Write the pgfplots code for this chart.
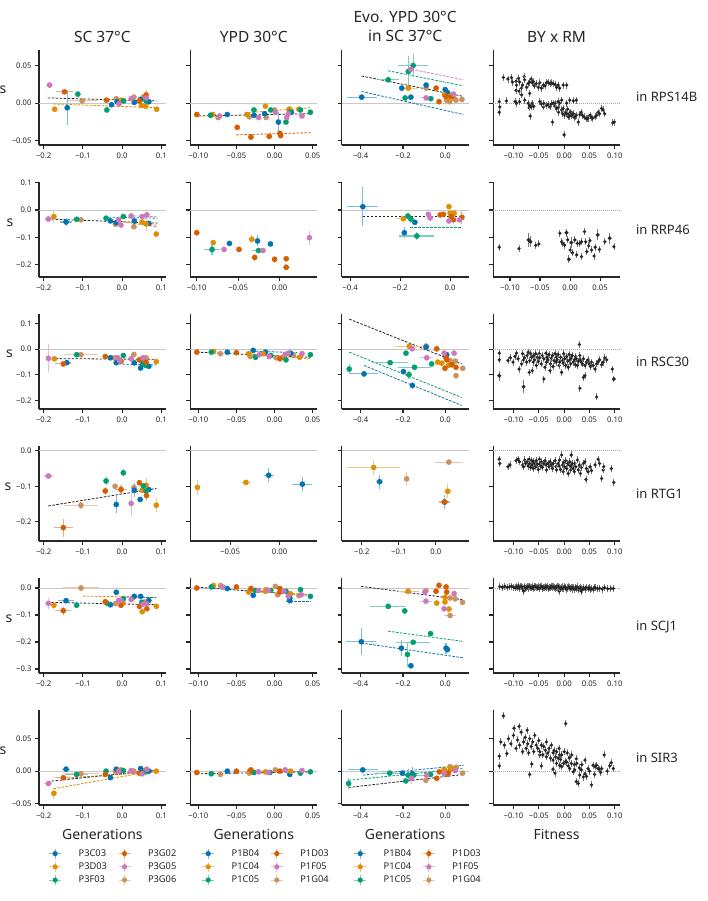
\documentclass[border=0pt]{standalone}
\usepackage{pgfplots}
\pgfplotsset{compat=1.18}
\usepackage{fontspec}
\setmainfont{Noto Sans}
\definecolor{c1}{HTML}{0173B2}
\definecolor{c2}{HTML}{DE8F05}
\definecolor{c3}{HTML}{029E73}
\definecolor{c4}{HTML}{D55E00}
\definecolor{c5}{HTML}{CC78BC}
\definecolor{c6}{HTML}{CA9161}
\definecolor{ax}{HTML}{262626}
\definecolor{bkbarc}{HTML}{7A7A7A}
\pgfdeclareplotmark{bkbar}{%
  \pgfsetlinewidth{0.8pt}%
  \pgfsetstrokecolor{bkbarc}%
  \pgfpathmoveto{\pgfqpoint{0pt}{-3.5pt}}\pgfpathlineto{\pgfqpoint{0pt}{3.5pt}}\pgfusepathqstroke
  \pgfsetfillcolor{ax}%
  \pgfpathcircle{\pgfpointorigin}{1.8pt}\pgfusepathqfill
}
\pgfplotsset{
  pan/.style={scale only axis, width=126.7pt, height=95pt, anchor=north west,
    axis x line*=bottom, axis y line*=left,
    axis line style={-, line width=1.1pt, color=ax},
    tick align=outside, major tick length=4pt,
    every tick/.style={line width=1.1pt, color=ax},
    tick label style={font=\fontsize{7.7}{9}\selectfont, color=ax},
    minor tick num=0, scaled ticks=false,
    extra y ticks={0}, extra y tick labels={},
    extra y tick style={grid=major, major tick length=0pt, major grid style={color=black!22, line width=0.9pt}},
    yticklabels={},
  },
  bypan/.style={pan, extra y tick style={grid=major, major tick length=0pt, major grid style={color=black!35, line width=0.6pt, dash pattern=on 1pt off 1pt}}},
  pt/.style={only marks, forget plot, mark=*, mark size=2.6pt, color=#1,
    mark options={draw=none, fill=#1},
    error bars/x dir=both, error bars/x explicit, error bars/y dir=both, error bars/y explicit,
    error bars/error mark=none,
    error bars/error bar style={line width=1.1pt, color=#1!50!white}},
  pf/.style n args={3}{pt=#1, error bars/x fixed=#2, error bars/y fixed=#3},
  bk/.style={only marks, forget plot, mark=bkbar},
  bke/.style={only marks, forget plot, mark=*, mark size=1.8pt, color=ax,
    mark options={draw=none, fill=ax},
    error bars/y dir=both, error bars/y explicit, error bars/error mark=none,
    error bars/error bar style={line width=0.8pt, color=bkbarc}},
  reg/.style={forget plot, no marks, line width=0.8pt, color=#1, dash pattern=on 2.6pt off 1.4pt},
  leg/.style={legend image code/.code={
      \path[draw=none, fill=none] (0pt,-5pt) rectangle (27pt,5pt);
      \draw[color=#1!50!white, line width=1.1pt] (4pt,0pt) -- (16pt,0pt) (10pt,-5pt) -- (10pt,5pt);
      \fill[color=#1, draw=none] (10pt,0pt) circle (2.6pt);}},
  lg/.style={legend style={at={(#1,-0.45)}, anchor=north west, draw=none, fill=none,
      inner sep=0pt, font=\fontsize{9.3}{10}\selectfont, text=ax, row sep=2pt,
      nodes={inner sep=1.5pt, draw=none},
      /tikz/every odd column/.append style={column sep=5pt},
      /tikz/every even column/.append style={column sep=6pt}},
    legend columns=2, legend cell align=left},
  c1x/.style={xmin=-0.212, xmax=0.111, xtick={-0.2,-0.1,0,0.1}, xticklabels={−0.2,−0.1,0.0,0.1}},
  c2x/.style={xmin=-0.1104, xmax=0.0558, xtick={-0.1,-0.05,0,0.05}, xticklabels={−0.10,−0.05,0.00,0.05}},
  c3x/.style={xmin=-0.489, xmax=0.109, xtick={-0.4,-0.2,0}, xticklabels={−0.4,−0.2,0.0}},
  c4x/.style={xmin=-0.140, xmax=0.110, xtick={-0.1,-0.05,0,0.05,0.1}, xticklabels={−0.10,−0.05,0.00,0.05,0.10}},
  r1/.style={ymin=-0.0554, ymax=0.0705, ytick={-0.05,0,0.05}},
  r2/.style={ymin=-0.2445, ymax=0.102, ytick={-0.2,-0.1,0,0.1}},
  r3/.style={ymin=-0.234, ymax=0.137, ytick={-0.2,-0.1,0,0.1}},
  r4/.style={ymin=-0.2535, ymax=0.0132, ytick={-0.2,-0.1,0}},
  r5/.style={ymin=-0.315, ymax=0.037, ytick={-0.3,-0.2,-0.1,0}},
  r6/.style={ymin=-0.052, ymax=0.094, ytick={-0.05,0,0.05}},
}
\begin{document}
\begin{tikzpicture}
\useasboundingbox (0,0) rectangle (707pt,-901pt);

%================ ROW 1 : RPS14B ================
\begin{axis}[pan, at={(39pt,-50pt)}, c1x, r1, yticklabels={−0.05,0.00,0.05}]
\addplot[reg=ax] coordinates {(-0.19,0.007) (0.088,0.003)};
\addplot[reg=c2] coordinates {(-0.175,-0.001) (0.088,-0.006)};
\addplot[pt=c6] coordinates {(-0.102,0.003) +- (0.04,0.002) (-0.015,0.006) +- (0.004,0.002) (0.030,0.008) +- (0.004,0.002) (0.054,0.008) +- (0.004,0.002)};
\addplot[pt=c1] coordinates {(-0.14,-0.006) +- (0.006,0.023) (-0.027,-0.002) +- (0.004,0.002) (-0.013,0.002) +- (0.004,0.002) (0.031,0.001) +- (0.004,0.002) (0.047,0.005) +- (0.004,0.002) (0.068,0.002) +- (0.004,0.002)};
\addplot[pt=c2] coordinates {(-0.172,-0.008) +- (0.003,0.004) (-0.002,0.004) +- (0.004,0.002) (0.049,-0.003) +- (0.004,0.002) (0.060,-0.004) +- (0.004,0.002) (0.088,-0.008) +- (0.004,0.002)};
\addplot[pt=c3] coordinates {(-0.113,0.012) +- (0.004,0.003) (-0.039,-0.009) +- (0.003,0.002) (0.004,0.003) +- (0.004,0.002) (0.061,0.003) +- (0.004,0.002)};
\addplot[pt=c4] coordinates {(-0.147,0.015) +- (0.021,0.002) (-0.040,0.004) +- (0.006,0.002) (0.044,0.003) +- (0.004,0.002) (0.061,0.011) +- (0.004,0.006)};
\addplot[pt=c5] coordinates {(-0.185,0.024) +- (0.008,0.004) (-0.008,-0.001) +- (0.006,0.002) (0.023,0.006) +- (0.006,0.003) (0.062,0.007) +- (0.006,0.004)};
\end{axis}

\begin{axis}[pan, at={(190.4pt,-50pt)}, c2x, r1]
\addplot[reg=ax] coordinates {(-0.105,-0.017) (0.047,-0.014)};
\addplot[reg=c4] coordinates {(-0.05,-0.042) (0.047,-0.039)};
\addplot[reg=c2] coordinates {(-0.04,-0.013) (0.047,-0.006)};
\addplot[pf={c6}{0.002}{0.002}] coordinates {(-0.074,-0.019) (-0.033,-0.018) (-0.011,-0.019) (0.0,-0.009) (0.020,-0.008)};
\addplot[pf={c1}{0.002}{0.002}] coordinates {(-0.062,-0.015) (-0.027,-0.016) (-0.013,-0.014) (0.022,-0.012)};
\addplot[pt=c1] coordinates {(0.005,-0.025) +- (0.002,0.013)};
\addplot[pf={c2}{0.003}{0.002}] coordinates {(-0.081,-0.015) (-0.036,-0.015) (-0.012,-0.004) (0.019,-0.008) (0.032,-0.008)};
\addplot[pf={c3}{0.003}{0.002}] coordinates {(-0.084,-0.016) (-0.027,-0.009) (-0.005,-0.009) (0.015,-0.025) (0.020,-0.012) (0.034,-0.009) (0.047,-0.012)};
\addplot[pf={c4}{0.002}{0.003}] coordinates {(-0.102,-0.015) (-0.049,-0.032) (-0.031,-0.045) (-0.007,-0.044) (0.007,-0.040) (0.008,-0.043)};
\addplot[pf={c5}{0.003}{0.002}] coordinates {(-0.072,-0.017) (-0.021,-0.019) (0.001,-0.012) (0.016,-0.019) (0.018,-0.014) (0.036,-0.017)};
\end{axis}

\begin{axis}[pan, at={(341.8pt,-50pt)}, c3x, r1]
\addplot[reg=ax] coordinates {(-0.396,0.036) (0.085,0.009)};
\addplot[reg=c5] coordinates {(-0.16,0.045) (0.085,0.031)};
\addplot[reg=c3] coordinates {(-0.27,0.043) (0.085,0.023)};
\addplot[reg=c1] coordinates {(-0.396,0.0155) (0.085,-0.015)};
\addplot[pf={c6}{0.008}{0.003}] coordinates {(-0.091,0.020) (0.005,0.004) (0.020,0.002) (0.042,0.006) (0.050,0.004) (0.078,0.005)};
\addplot[pt=c1] coordinates {(-0.395,0.008) +- (0.07,0.003) (-0.206,0.020) +- (0.01,0.004) (-0.163,0.008) +- (0.008,0.003) (-0.091,0.024) +- (0.008,0.003) (-0.001,0.018) +- (0.008,0.003) (0.010,0.014) +- (0.008,0.003)};
\addplot[pt=c2] coordinates {(-0.175,0.020) +- (0.04,0.004) (-0.005,0.011) +- (0.008,0.003) (0.013,0.006) +- (0.008,0.003) (0.025,0.010) +- (0.008,0.003)};
\addplot[pt=c3] coordinates {(-0.27,0.031) +- (0.05,0.003) (-0.19,0.007) +- (0.006,0.003) (-0.175,0.042) +- (0.01,0.02) (-0.152,0.050) +- (0.07,0.015) (-0.069,0.006) +- (0.006,0.003)};
\addplot[pf={c4}{0.008}{0.003}] coordinates {(-0.044,0.020) (-0.030,0.002) (0.003,0.009) (0.030,0.009)};
\addplot[pt=c5] coordinates {(-0.163,0.045) +- (0.008,0.003) (-0.091,0.007) +- (0.03,0.003) (0.038,0.012) +- (0.008,0.003)};
\end{axis}

\begin{axis}[bypan, at={(493.2pt,-50pt)}, c4x, r1]
\addplot[bk] coordinates {(-0.120,0.034) (-0.111,0.032) (-0.104,0.034) (-0.102,0.028) (-0.095,0.029) (-0.094,0.024) (-0.090,0.033) (-0.088,0.028) (-0.084,0.020) (-0.082,0.024) (-0.079,0.035) (-0.078,0.031) (-0.074,0.021) (-0.071,0.026) (-0.068,0.028) (-0.065,0.032) (-0.063,0.027) (-0.061,0.029) (-0.059,0.023) (-0.055,0.026) (-0.051,0.021) (-0.048,0.027) (-0.045,0.020) (-0.041,0.024) (-0.038,0.023) (-0.035,0.027) (-0.032,0.028) (-0.028,0.026) (-0.025,0.027) (-0.022,0.026) (-0.018,0.025) (-0.015,0.021) (-0.012,0.024) (-0.009,0.020) (-0.002,0.024) (0.005,0.024) (-0.095,0.017) (-0.089,0.016) (-0.068,0.013) (-0.084,0.011)
(-0.128,0.002) (-0.127,-0.005) (-0.128,-0.012) (-0.114,0.003) (-0.097,0.002) (-0.094,0.000) (-0.088,0.002) (-0.078,0.004) (-0.071,0.000) (-0.069,-0.006) (-0.068,-0.003) (-0.067,-0.017) (-0.065,-0.005) (-0.063,0.000) (-0.060,-0.004) (-0.048,0.002) (-0.045,-0.001) (-0.041,-0.005) (-0.040,0.000) (-0.035,-0.003) (-0.032,-0.002) (-0.028,-0.005) (-0.025,-0.001) (-0.022,0.000) (-0.023,-0.025) (-0.018,-0.004) (-0.015,-0.007) (-0.012,-0.006) (-0.011,-0.012) (-0.009,0.000) (-0.005,-0.009) (-0.003,-0.014) (-0.002,-0.007) (0.000,-0.042) (0.001,-0.016) (0.003,-0.012) (0.005,-0.014) (0.007,-0.008) (0.008,-0.018) (0.010,-0.014) (0.011,-0.017) (0.013,-0.012) (0.015,-0.016) (0.017,-0.015) (0.018,-0.014) (0.020,-0.019) (0.022,-0.018) (0.024,-0.016) (0.028,-0.025) (0.031,-0.015) (0.034,-0.012) (0.036,-0.016) (0.039,-0.018) (0.043,-0.020) (0.045,-0.020) (0.047,-0.020) (0.051,-0.016) (0.054,-0.019) (0.056,-0.020) (0.061,-0.018) (0.064,-0.016) (0.067,-0.012) (0.070,-0.014) (0.074,-0.007) (0.077,-0.009) (0.080,-0.014) (0.096,-0.026) (0.099,-0.025) (0.024,0.004) (0.018,0.003) (0.011,0.004) (0.005,0.000) (-0.005,0.004) (-0.012,0.002) (-0.018,0.000)};
\end{axis}

%================ ROW 2 : RRP46 ================
\begin{axis}[pan, at={(39pt,-182pt)}, c1x, r2, yticklabels={−0.2,−0.1,0.0,0.1}]
\addplot[reg=ax] coordinates {(-0.19,-0.033) (0.09,-0.048)};
\addplot[reg=c3] coordinates {(-0.045,-0.026) (0.09,-0.030)};
\addplot[reg=c2] coordinates {(0.0,-0.042) (0.09,-0.062)};
\addplot[reg=c5] coordinates {(0.02,-0.021) (0.09,-0.025)};
\addplot[reg=c6] coordinates {(0.03,-0.05) (0.09,-0.055)};
\addplot[pt=c6] coordinates {(-0.105,-0.036) +- (0.004,0.005) (-0.017,-0.052) +- (0.004,0.005) (0.030,-0.061) +- (0.006,0.01)};
\addplot[pt=c1] coordinates {(-0.143,-0.044) +- (0.015,0.015) (-0.030,-0.040) +- (0.004,0.005) (-0.015,-0.046) +- (0.004,0.005) (0.031,-0.040) +- (0.004,0.005) (0.068,-0.049) +- (0.004,0.005)};
\addplot[pt=c2] coordinates {(-0.174,-0.024) +- (0.004,0.025) (0.051,-0.044) +- (0.004,0.005) (0.061,-0.051) +- (0.004,0.025) (0.087,-0.088) +- (0.004,0.006)};
\addplot[pf={c3}{0.004}{0.005}] coordinates {(-0.116,-0.034) (-0.041,-0.030) (0.003,-0.024)};
\addplot[pt=c5] coordinates {(-0.188,-0.033) +- (0.008,0.005) (-0.009,-0.036) +- (0.004,0.005) (-0.003,-0.055) +- (0.004,0.005) (0.023,-0.022) +- (0.004,0.005) (0.051,-0.024) +- (0.01,0.006) (0.063,-0.018) +- (0.008,0.02)};
\end{axis}

\begin{axis}[pan, at={(190.4pt,-182pt)}, xmin=-0.1076, xmax=0.0453, xtick={-0.1,-0.05,0}, xticklabels={−0.10,−0.05,0.00}, r2]
\addplot[pt=c1] coordinates {(-0.0605,-0.122) +- (0.002,0.006) (-0.0266,-0.113) +- (0.002,0.02) (-0.011,-0.124) +- (0.003,0.008)};
\addplot[pt=c2] coordinates {(-0.080,-0.119) +- (0.002,0.006) (-0.0335,-0.107) +- (0.002,0.015)};
\addplot[pt=c3] coordinates {(-0.0815,-0.144) +- (0.010,0.02) (-0.0254,-0.148) +- (0.008,0.006)};
\addplot[pt=c4] coordinates {(-0.100,-0.083) +- (0.002,0.006) (-0.049,-0.144) +- (0.004,0.01) (-0.030,-0.173) +- (0.002,0.012) (-0.006,-0.180) +- (0.003,0.012) (0.008,-0.178) +- (0.003,0.008) (0.008,-0.209) +- (0.004,0.006)};
\addplot[pt=c5] coordinates {(-0.067,-0.144) +- (0.002,0.006) (-0.020,-0.148) +- (0.003,0.006) (0.036,-0.101) +- (0.002,0.025)};
\end{axis}

\begin{axis}[pan, at={(341.8pt,-182pt)}, xmin=-0.433, xmax=0.0733, xtick={-0.4,-0.2,0}, xticklabels={−0.4,−0.2,0.0}, r2]
\addplot[reg=ax] coordinates {(-0.35,-0.024) (0.047,-0.024)};
\addplot[reg=c3] coordinates {(-0.16,-0.064) (0.047,-0.064)};
\addplot[pt=c1] coordinates {(-0.349,0.012) +- (0.062,0.072) (-0.141,-0.045) +- (0.008,0.006) (-0.183,-0.083) +- (0.008,0.02)};
\addplot[pt=c2] coordinates {(-0.187,-0.032) +- (0.03,0.005) (-0.005,0.012) +- (0.006,0.006) (0.0,-0.012) +- (0.006,0.006) (0.016,-0.012) +- (0.006,0.006)};
\addplot[pt=c3] coordinates {(-0.169,-0.022) +- (0.006,0.006) (-0.157,-0.033) +- (0.008,0.015) (-0.133,-0.095) +- (0.07,0.015)};
\addplot[pt=c4] coordinates {(-0.04,-0.018) +- (0.008,0.006) (-0.027,-0.016) +- (0.008,0.006) (0.004,-0.024) +- (0.008,0.006) (0.013,-0.036) +- (0.008,0.006) (0.047,-0.027) +- (0.008,0.025)};
\addplot[pf={c5}{0.008}{0.006}] coordinates {(-0.087,-0.016) (-0.080,-0.029) (-0.005,-0.040) (0.037,-0.036)};
\end{axis}

\begin{axis}[bypan, at={(493.2pt,-182pt)}, xmin=-0.128, xmax=0.083, xtick={-0.1,-0.05,0,0.05}, xticklabels={−0.10,−0.05,0.00,0.05}, r2]
\addplot[bk] coordinates {(-0.118,-0.136) (-0.085,-0.141) (-0.057,-0.129) (-0.052,-0.124) (-0.017,-0.085) (-0.014,-0.116) (-0.012,-0.122) (-0.009,-0.128) (-0.004,-0.109) (0.0,-0.146) (0.004,-0.156) (0.008,-0.109) (0.011,-0.164) (0.012,-0.122) (0.016,-0.122) (0.019,-0.170) (0.024,-0.079) (0.026,-0.116) (0.028,-0.152) (0.031,-0.131) (0.033,-0.112) (0.036,-0.146) (0.040,-0.168) (0.042,-0.136) (0.049,-0.144) (0.058,-0.116) (0.073,-0.134) (0.019,-0.116)};
\addplot[bke] coordinates {(-0.069,-0.109) +- (0,0.025) (-0.066,-0.116) +- (0,0.02) (-0.006,-0.083) +- (0,0.015) (-0.002,-0.180) +- (0,0.015) (0.002,-0.119) +- (0,0.02) (0.046,-0.091) +- (0,0.02) (0.066,-0.103) +- (0,0.02)};
\end{axis}

%================ ROW 3 : RSC30 ================
\begin{axis}[pan, at={(39pt,-314pt)}, c1x, r3, yticklabels={−0.2,−0.1,0.0,0.1}]
\addplot[reg=ax] coordinates {(-0.19,-0.037) (0.087,-0.040)};
\addplot[reg=c1] coordinates {(-0.02,-0.058) (0.087,-0.062)};
\addplot[pt=c6] coordinates {(-0.105,-0.022) +- (0.044,0.005) (-0.020,-0.034) +- (0.004,0.005) (0.030,-0.021) +- (0.004,0.008) (0.061,-0.034) +- (0.004,0.005)};
\addplot[pt=c1] coordinates {(-0.141,-0.053) +- (0.01,0.006) (-0.030,-0.034) +- (0.004,0.005) (-0.015,-0.053) +- (0.004,0.005) (0.031,-0.054) +- (0.004,0.005) (0.047,-0.074) +- (0.004,0.008) (0.068,-0.067) +- (0.004,0.005)};
\addplot[pf={c2}{0.004}{0.005}] coordinates {(-0.173,-0.038) (0.048,-0.045) (0.087,-0.049)};
\addplot[pf={c3}{0.004}{0.006}] coordinates {(-0.116,-0.022) (0.003,-0.025) (0.053,-0.058) (0.060,-0.064)};
\addplot[pt=c4] coordinates {(-0.150,-0.058) +- (0.02,0.005) (-0.043,-0.029) +- (0.004,0.005) (-0.003,-0.047) +- (0.004,0.005) (0.044,-0.042) +- (0.004,0.005) (0.061,-0.051) +- (0.004,0.005)};
\addplot[pt=c5] coordinates {(-0.188,-0.036) +- (0.006,0.055) (-0.011,-0.034) +- (0.004,0.005) (-0.007,-0.045) +- (0.004,0.005) (0.023,-0.038) +- (0.004,0.02) (0.053,-0.034) +- (0.006,0.005)};
\end{axis}

\begin{axis}[pan, at={(190.4pt,-314pt)}, c2x, r3]
\addplot[reg=ax] coordinates {(-0.102,-0.012) (0.047,-0.032)};
\addplot[reg=c2] coordinates {(-0.035,-0.018) (0.047,-0.038)};
\addplot[reg=c1] coordinates {(-0.03,-0.008) (0.03,-0.014)};
\addplot[pf={c6}{0.002}{0.004}] coordinates {(-0.071,-0.018) (-0.032,-0.029) (0.002,-0.034) (0.025,-0.025)};
\addplot[pf={c1}{0.002}{0.004}] coordinates {(-0.062,-0.012) (-0.028,-0.005) (-0.012,-0.012) (0.021,-0.016)};
\addplot[pf={c2}{0.002}{0.004}] coordinates {(-0.080,-0.009) (-0.034,-0.018) (-0.015,-0.018) (0.011,-0.032) (0.033,-0.032)};
\addplot[pf={c3}{0.002}{0.004}] coordinates {(-0.083,-0.012) (-0.025,-0.032) (-0.005,-0.025) (0.015,-0.042) (0.047,-0.022)};
\addplot[pf={c4}{0.002}{0.004}] coordinates {(-0.102,-0.012) (-0.050,-0.014) (0.007,-0.038)};
\addplot[pf={c5}{0.002}{0.004}] coordinates {(-0.020,-0.022) (-0.007,-0.029) (0.014,-0.021) (0.018,-0.016) (0.036,-0.018)};
\end{axis}

\begin{axis}[pan, at={(341.8pt,-314pt)}, c3x, r3]
\addplot[reg=ax] coordinates {(-0.454,0.117) (0.077,-0.058)};
\addplot[reg=c3] coordinates {(-0.454,-0.012) (0.077,-0.189)};
\addplot[reg=c1] coordinates {(-0.384,-0.064) (0.077,-0.220)};
\addplot[pt=c6] coordinates {(-0.091,0.012) +- (0.008,0.006) (0.022,-0.045) +- (0.008,0.006) (0.047,-0.047) +- (0.008,0.006) (0.050,-0.104) +- (0.008,0.006) (0.082,-0.075) +- (0.008,0.006)};
\addplot[pt=c1] coordinates {(-0.384,-0.097) +- (0.068,0.006) (-0.198,-0.088) +- (0.008,0.006) (-0.156,-0.142) +- (0.008,0.015) (-0.091,0.008) +- (0.008,0.006) (0.006,-0.022) +- (0.008,0.006)};
\addplot[pt=c2] coordinates {(-0.170,0.011) +- (0.067,0.006) (-0.036,-0.051) +- (0.008,0.006) (-0.017,-0.055) +- (0.008,0.006) (0.014,-0.064) +- (0.008,0.006)};
\addplot[pt=c3] coordinates {(-0.454,-0.078) +- (0.006,0.02) (-0.261,-0.053) +- (0.085,0.006) (-0.186,-0.016) +- (0.008,0.006) (-0.146,-0.071) +- (0.08,0.006) (-0.172,-0.100) +- (0.008,0.015) (-0.065,-0.058) +- (0.008,0.006)};
\addplot[pf={c4}{0.008}{0.006}] coordinates {(-0.041,0.001) (0.003,-0.034) (-0.002,-0.075) (0.006,-0.042) (0.050,-0.071) (0.03,-0.061)};
\addplot[pt=c5] coordinates {(-0.157,0.001) +- (0.008,0.006) (-0.088,-0.034) +- (0.03,0.006) (-0.006,-0.016) +- (0.008,0.006) (0.041,-0.016) +- (0.008,0.006)};
\end{axis}

\begin{axis}[bypan, at={(493.2pt,-314pt)}, c4x, r3]
\addplot[bk] coordinates {(-0.128,-0.016) (-0.128,-0.042) (-0.111,-0.045) (-0.106,-0.034) (-0.101,-0.051) (-0.097,-0.029) (-0.094,-0.016) (-0.091,-0.038) (-0.089,-0.078) (-0.084,-0.058) (-0.082,-0.018) (-0.080,-0.042) (-0.078,-0.034) (-0.074,-0.051) (-0.073,-0.025) (-0.071,-0.012) (-0.069,-0.091) (-0.068,-0.045) (-0.066,-0.018) (-0.064,-0.032) (-0.063,-0.084) (-0.061,-0.051) (-0.060,-0.025) (-0.058,-0.042) (-0.056,-0.018) (-0.055,-0.064) (-0.053,-0.032) (-0.051,-0.049) (-0.049,-0.018) (-0.048,-0.034) (-0.045,-0.058) (-0.043,-0.025) (-0.040,-0.038) (-0.040,-0.117) (-0.038,-0.071) (-0.036,-0.016) (-0.035,-0.051) (-0.034,-0.032) (-0.032,-0.042) (-0.030,-0.021) (-0.028,-0.084) (-0.027,-0.058) (-0.025,-0.036) (-0.023,-0.025) (-0.022,-0.068) (-0.020,-0.045) (-0.018,-0.018) (-0.016,-0.051) (-0.015,-0.032) (-0.014,-0.042) (-0.012,-0.021) (-0.010,-0.064) (-0.009,-0.051) (-0.007,-0.032) (-0.005,-0.091) (-0.003,-0.045) (-0.002,-0.055) (-0.001,-0.018) (0.001,-0.038) (0.003,-0.064) (0.005,-0.029) (0.007,-0.047) (0.008,-0.071) (0.010,-0.021) (0.011,-0.042) (0.013,-0.058) (0.014,-0.034) (0.016,-0.025) (0.018,-0.051) (0.020,-0.042) (0.022,-0.061) (0.023,-0.029) (0.024,-0.038) (0.026,-0.064) (0.028,-0.047) (0.030,0.018) (0.031,-0.025) (0.032,-0.042) (0.034,-0.051) (0.036,-0.058) (0.038,-0.038) (0.038,-0.111) (0.041,-0.064) (0.041,-0.104) (0.044,-0.051) (0.047,-0.042) (0.049,-0.058) (0.052,-0.068) (0.054,-0.051) (0.057,-0.064) (0.061,-0.078) (0.064,-0.058) (0.067,-0.049) (0.070,-0.042) (0.074,-0.061) (0.077,-0.051) (0.080,-0.034) (0.084,-0.042) (0.095,-0.078) (0.031,-0.153) (0.064,-0.187)};
\addplot[bke] coordinates {(-0.128,-0.104) +- (0,0.02) (-0.080,-0.147) +- (0,0.025) (0.098,-0.117) +- (0,0.01)};
\end{axis}

%================ ROW 4 : RTG1 ================
\begin{axis}[pan, at={(39pt,-446pt)}, c1x, r4, yticklabels={−0.2,−0.1,0.0}]
\addplot[reg=ax] coordinates {(-0.188,-0.155) (0.087,-0.106)};
\addplot[pt=c6] coordinates {(-0.105,-0.153) +- (0.044,0.01) (-0.018,-0.100) +- (0.004,0.006) (0.030,-0.103) +- (0.004,0.006)};
\addplot[pt=c1] coordinates {(-0.015,-0.151) +- (0.003,0.025) (0.031,-0.111) +- (0.003,0.02) (0.046,-0.137) +- (0.003,0.006) (0.068,-0.109) +- (0.003,0.006)};
\addplot[pt=c2] coordinates {(0.051,-0.111) +- (0.01,0.006) (0.061,-0.097) +- (0.003,0.02) (0.087,-0.153) +- (0.003,0.02)};
\addplot[pt=c3] coordinates {(-0.041,-0.085) +- (0.003,0.012) (0.003,-0.062) +- (0.003,0.01) (0.054,-0.099) +- (0.003,0.006) (0.061,-0.113) +- (0.003,0.006)};
\addplot[pt=c4] coordinates {(-0.150,-0.216) +- (0.025,0.025) (-0.043,-0.113) +- (0.006,0.01) (-0.003,-0.109) +- (0.015,0.012) (0.044,-0.090) +- (0.003,0.006) (0.062,-0.126) +- (0.003,0.015)};
\addplot[pt=c5] coordinates {(-0.188,-0.071) +- (0.012,0.005) (0.023,-0.148) +- (0.003,0.035)};
\end{axis}

\begin{axis}[pan, at={(190.4pt,-446pt)}, xmin=-0.0901, xmax=0.0379, xtick={-0.05,0}, xticklabels={−0.05,0.00}, r4]
\addplot[pt=c2] coordinates {(-0.083,-0.103) +- (0.001,0.02) (-0.034,-0.089) +- (0.005,0.004)};
\addplot[pt=c1] coordinates {(-0.011,-0.069) +- (0.005,0.02) (0.023,-0.094) +- (0.01,0.02)};
\end{axis}

\begin{axis}[pan, at={(341.8pt,-446pt)}, xmin=-0.254, xmax=0.088, xtick={-0.2,-0.1,0}, xticklabels={−0.2,−0.1,0.0}, r4]
\addplot[pt=c2] coordinates {(-0.168,-0.047) +- (0.071,0.02) (0.032,-0.114) +- (0.01,0.02)};
\addplot[pt=c1] coordinates {(-0.152,-0.087) +- (0.01,0.02) (0.023,-0.144) +- (0.004,0.02)};
\addplot[pt=c6] coordinates {(-0.079,-0.079) +- (0.004,0.02) (0.035,-0.032) +- (0.037,0.005)};
\addplot[pt=c4] coordinates {(0.024,-0.144) +- (0.015,0.006)};
\end{axis}

\begin{axis}[bypan, at={(493.2pt,-446pt)}, c4x, r4]
\addplot[bk] coordinates {(-0.128,-0.024) (-0.127,-0.036) (-0.111,-0.045) (-0.107,-0.040) (-0.095,-0.028) (-0.091,-0.024) (-0.088,-0.031) (-0.082,-0.040) (-0.080,-0.045) (-0.078,-0.026) (-0.076,-0.036) (-0.073,-0.031) (-0.071,-0.043) (-0.069,-0.024) (-0.068,-0.036) (-0.066,-0.047) (-0.064,-0.028) (-0.063,-0.040) (-0.061,-0.050) (-0.060,-0.031) (-0.058,-0.036) (-0.056,-0.045) (-0.055,-0.028) (-0.053,-0.038) (-0.051,-0.053) (-0.049,-0.024) (-0.048,-0.036) (-0.046,-0.043) (-0.045,-0.031) (-0.043,-0.047) (-0.040,-0.036) (-0.038,-0.028) (-0.036,-0.040) (-0.035,-0.054) (-0.032,-0.036) (-0.030,-0.045) (-0.028,-0.031) (-0.025,-0.040) (-0.023,-0.050) (-0.022,-0.036) (-0.018,-0.028) (-0.016,-0.045) (-0.015,-0.054) (-0.012,-0.036) (-0.010,-0.043) (-0.009,-0.026) (-0.007,-0.053) (-0.005,-0.012) (-0.003,-0.040) (-0.002,-0.059) (-0.001,-0.034) (0.001,-0.045) (0.003,-0.028) (0.005,-0.050) (0.007,-0.036) (0.008,-0.064) (0.010,-0.040) (0.011,-0.031) (0.013,-0.054) (0.014,-0.043) (0.016,-0.036) (0.018,-0.050) (0.020,-0.059) (0.021,-0.036) (0.023,-0.045) (0.026,-0.026) (0.028,-0.054) (0.030,-0.040) (0.032,-0.064) (0.034,-0.047) (0.038,-0.036) (0.041,-0.031) (0.043,-0.081) (0.044,-0.050) (0.047,-0.059) (0.051,-0.045) (0.054,-0.056) (0.061,-0.040) (0.067,-0.024) (0.070,-0.036) (0.074,-0.078) (0.077,-0.054) (0.078,-0.045) (0.093,-0.050) (0.098,-0.089) (0.014,-0.012)};
\end{axis}

%================ ROW 5 : SCJ1 ================
\begin{axis}[pan, at={(39pt,-578pt)}, c1x, r5, yticklabels={−0.3,−0.2,−0.1,0.0}]
\addplot[reg=ax] coordinates {(-0.19,-0.053) (0.087,-0.062)};
\addplot[reg=c2] coordinates {(-0.1,-0.030) (0.087,-0.035)};
\addplot[reg=c1] coordinates {(0.0,-0.033) (0.087,-0.036)};
\addplot[pt=c6] coordinates {(-0.105,0.0) +- (0.045,0.01) (-0.017,-0.058) +- (0.004,0.006) (0.027,-0.037) +- (0.004,0.006) (0.057,-0.052) +- (0.004,0.006)};
\addplot[pt=c1] coordinates {(-0.143,-0.047) +- (0.02,0.006) (-0.030,-0.062) +- (0.004,0.006) (-0.015,-0.016) +- (0.004,0.006) (0.031,-0.031) +- (0.004,0.006) (0.047,-0.031) +- (0.004,0.006) (0.068,-0.046) +- (0.004,0.006)};
\addplot[pt=c2] coordinates {(-0.174,-0.064) +- (0.004,0.015) (0.002,-0.056) +- (0.004,0.006) (0.051,-0.088) +- (0.004,0.006) (0.087,-0.068) +- (0.004,0.006)};
\addplot[pt=c3] coordinates {(-0.116,-0.064) +- (0.004,0.01) (-0.039,-0.056) +- (0.004,0.006) (0.003,-0.040) +- (0.004,0.006) (0.050,-0.053) +- (0.004,0.006)};
\addplot[pt=c4] coordinates {(-0.150,-0.084) +- (0.02,0.015) (-0.043,-0.051) +- (0.004,0.006) (-0.003,-0.064) +- (0.004,0.006) (0.044,-0.068) +- (0.004,0.006) (0.063,-0.077) +- (0.004,0.006)};
\addplot[pt=c5] coordinates {(-0.188,-0.057) +- (0.008,0.02) (-0.009,-0.046) +- (0.004,0.006) (-0.003,-0.046) +- (0.004,0.006) (0.023,-0.043) +- (0.004,0.006) (0.053,-0.060) +- (0.004,0.006) (0.062,-0.058) +- (0.004,0.006)};
\end{axis}

\begin{axis}[pan, at={(190.4pt,-578pt)}, c2x, r5]
\addplot[reg=ax] coordinates {(-0.102,0.003) (0.047,-0.027)};
\addplot[reg=c2] coordinates {(-0.035,-0.012) (0.047,-0.025)};
\addplot[reg=c1] coordinates {(0.015,-0.048) (0.047,-0.048)};
\addplot[pf={c6}{0.002}{0.004}] coordinates {(-0.071,0.009) (-0.032,-0.009) (-0.011,-0.006) (0.001,0.006) (0.004,-0.025) (0.032,-0.028)};
\addplot[pf={c1}{0.002}{0.004}] coordinates {(-0.062,-0.002) (-0.028,-0.027) (0.020,-0.047) (0.020,-0.037)};
\addplot[pf={c2}{0.002}{0.004}] coordinates {(-0.080,0.009) (-0.034,-0.015) (-0.012,-0.012) (0.021,-0.021)};
\addplot[pf={c3}{0.002}{0.004}] coordinates {(-0.083,0.004) (-0.025,-0.009) (-0.005,-0.009) (0.015,-0.012) (0.034,-0.006) (0.047,-0.031)};
\addplot[pf={c4}{0.002}{0.004}] coordinates {(-0.102,0.0) (-0.050,0.004) (-0.031,-0.002) (0.007,-0.002) (0.007,-0.015)};
\addplot[pf={c5}{0.002}{0.004}] coordinates {(-0.068,0.004) (-0.021,-0.009) (-0.008,-0.009) (0.012,-0.012) (0.018,-0.031) (0.035,-0.025)};
\end{axis}

\begin{axis}[pan, at={(341.8pt,-578pt)}, c3x, r5]
\addplot[reg=ax] coordinates {(-0.398,0.006) (0.078,-0.043)};
\addplot[reg=c3] coordinates {(-0.271,-0.160) (0.086,-0.198)};
\addplot[reg=c1] coordinates {(-0.397,-0.204) (0.086,-0.259)};
\addplot[pt=c6] coordinates {(-0.092,-0.010) +- (0.008,0.006) (0.022,-0.037) +- (0.008,0.006) (0.046,-0.040) +- (0.008,0.006) (0.081,-0.053) +- (0.008,0.006) (0.022,-0.102) +- (0.03,0.006)};
\addplot[pt=c1] coordinates {(-0.397,-0.199) +- (0.07,0.05) (-0.208,-0.223) +- (0.008,0.03) (-0.163,-0.288) +- (0.008,0.006) (0.003,-0.223) +- (0.008,0.02) (0.010,-0.228) +- (0.008,0.006)};
\addplot[pt=c2] coordinates {(-0.176,-0.012) +- (0.05,0.006) (-0.002,-0.035) +- (0.008,0.006) (-0.041,-0.056) +- (0.008,0.006) (-0.002,-0.052) +- (0.008,0.006) (0.017,-0.078) +- (0.008,0.006)};
\addplot[pt=c3] coordinates {(-0.270,-0.068) +- (0.085,0.01) (-0.192,-0.085) +- (0.006,0.006) (-0.070,-0.169) +- (0.006,0.006) (-0.152,-0.201) +- (0.08,0.006) (-0.179,-0.246) +- (0.008,0.045)};
\addplot[pf={c4}{0.008}{0.006}] coordinates {(-0.030,0.010) (0.003,0.004) (-0.044,-0.012) (0.006,-0.015)};
\addplot[pt=c5] coordinates {(-0.097,-0.015) +- (0.008,0.006) (0.041,-0.021) +- (0.008,0.015) (-0.092,-0.049) +- (0.03,0.006) (-0.006,-0.077) +- (0.008,0.006)};
\end{axis}

\begin{axis}[bypan, at={(493.2pt,-578pt)}, c4x, r5]
\addplot[bk] coordinates {(-0.127,0.005) (-0.122,0.003) (-0.117,0.006) (-0.112,0.002) (-0.108,0.004) (-0.104,0.007) (-0.100,0.003) (-0.097,0.001) (-0.094,0.005) (-0.090,0.008) (-0.088,-0.002) (-0.085,0.004) (-0.082,0.002) (-0.080,-0.007) (-0.078,0.006) (-0.075,0.001) (-0.073,0.004) (-0.070,-0.003) (-0.068,0.007) (-0.066,0.002) (-0.063,0.005) (-0.061,-0.001) (-0.058,0.003) (-0.056,0.006) (-0.053,0.000) (-0.051,0.004) (-0.048,0.002) (-0.046,0.007) (-0.043,-0.002) (-0.041,0.003) (-0.038,0.005) (-0.036,0.000) (-0.033,0.004) (-0.031,-0.003) (-0.028,0.002) (-0.026,0.006) (-0.023,0.001) (-0.021,0.004) (-0.018,-0.002) (-0.016,0.003) (-0.013,0.000) (-0.011,0.005) (-0.008,-0.003) (-0.006,0.002) (-0.003,0.004) (-0.001,-0.001) (0.002,0.003) (0.004,-0.004) (0.007,0.001) (0.009,0.004) (0.012,-0.002) (0.014,0.002) (0.017,-0.005) (0.019,0.000) (0.022,0.003) (0.024,-0.003) (0.027,0.001) (0.029,-0.006) (0.032,0.002) (0.035,-0.002) (0.038,0.001) (0.041,-0.004) (0.044,0.000) (0.047,-0.003) (0.050,0.002) (0.054,-0.002) (0.058,-0.006) (0.062,0.000) (0.066,-0.003) (0.070,-0.001) (0.075,-0.004) (0.080,0.001) (0.086,-0.003) (0.092,-0.002) (0.097,-0.002) (-0.080,-0.012) (-0.010,-0.012) (0.034,-0.012) (-0.092,0.001) (-0.086,0.006) (-0.076,-0.001) (-0.071,0.005) (-0.064,0.000) (-0.059,0.007) (-0.054,0.003) (-0.049,-0.002) (-0.044,0.005) (-0.039,0.001) (-0.034,0.006) (-0.029,0.000) (-0.024,0.004) (-0.019,0.002) (-0.014,0.006) (-0.009,0.001) (-0.004,-0.002) (0.001,0.005) (0.006,-0.001) (0.011,0.002) (0.016,0.000) (0.021,-0.004) (0.026,0.004) (0.031,-0.001) (0.036,-0.005) (0.043,0.003) (0.052,-0.004) (0.060,0.002)};
\end{axis}

%================ ROW 6 : SIR3 ================
\begin{axis}[pan, at={(39pt,-710pt)}, c1x, r6, yticklabels={−0.05,0.00,0.05}, lg=0.047]
\addplot[reg=ax] coordinates {(-0.19,-0.016) (0.087,0.002)};
\addplot[reg=c2] coordinates {(-0.175,-0.027) (0.087,0.001)};
\addplot[reg=c4] coordinates {(-0.15,-0.011) (0.087,-0.001)};
\addplot[pt=c6] coordinates {(-0.105,-0.004) +- (0.045,0.002) (-0.017,-0.001) +- (0.004,0.002) (0.030,0.0) +- (0.004,0.002) (0.057,0.001) +- (0.004,0.002)};
\addplot[pt=c1] coordinates {(-0.143,0.003) +- (0.01,0.005) (-0.030,-0.010) +- (0.004,0.002) (-0.015,0.003) +- (0.004,0.002) (0.047,0.004) +- (0.004,0.002) (0.068,0.0) +- (0.004,0.002)};
\addplot[pt=c2] coordinates {(-0.174,-0.034) +- (0.004,0.008) (-0.003,0.002) +- (0.004,0.002) (0.061,0.002) +- (0.004,0.002) (0.087,0.0) +- (0.004,0.002)};
\addplot[pt=c3] coordinates {(-0.116,-0.005) +- (0.03,0.002) (-0.041,0.0) +- (0.004,0.002) (0.003,0.001) +- (0.004,0.002) (0.060,-0.001) +- (0.004,0.002)};
\addplot[pt=c4] coordinates {(-0.150,-0.010) +- (0.02,0.002) (-0.043,-0.005) +- (0.004,0.002) (0.044,-0.003) +- (0.004,0.002)};
\addplot[pt=c5] coordinates {(-0.188,-0.019) +- (0.01,0.002) (-0.009,0.0) +- (0.004,0.002) (0.023,0.001) +- (0.004,0.002) (0.051,-0.004) +- (0.004,0.002) (0.063,0.003) +- (0.004,0.002)};
\addlegendimage{leg=c1}\addlegendentry{P3C03}
\addlegendimage{leg=c4}\addlegendentry{P3G02}
\addlegendimage{leg=c2}\addlegendentry{P3D03}
\addlegendimage{leg=c5}\addlegendentry{P3G05}
\addlegendimage{leg=c3}\addlegendentry{P3F03}
\addlegendimage{leg=c6}\addlegendentry{P3G06}
\end{axis}

\begin{axis}[pan, at={(190.4pt,-710pt)}, c2x, r6, lg=0.06]
\addplot[reg=ax] coordinates {(-0.102,-0.004) (0.047,-0.001)};
\addplot[pf={c6}{0.002}{0.002}] coordinates {(-0.071,-0.005) (-0.033,-0.003) (0.001,0.002)};
\addplot[pf={c1}{0.002}{0.002}] coordinates {(-0.062,0.0) (0.020,-0.005)};
\addplot[pf={c2}{0.002}{0.002}] coordinates {(-0.033,0.0) (-0.012,-0.001) (0.021,0.0)};
\addplot[pf={c3}{0.002}{0.002}] coordinates {(-0.083,-0.004) (-0.027,-0.002) (-0.006,-0.002) (0.034,-0.003) (0.047,-0.001)};
\addplot[pf={c4}{0.002}{0.002}] coordinates {(-0.102,-0.002) (-0.050,0.0) (-0.031,0.002) (0.007,0.0)};
\addplot[pf={c5}{0.002}{0.002}] coordinates {(-0.021,-0.001) (-0.008,-0.002) (0.014,0.002) (0.036,0.001)};
\addlegendimage{leg=c1}\addlegendentry{P1B04}
\addlegendimage{leg=c4}\addlegendentry{P1D03}
\addlegendimage{leg=c2}\addlegendentry{P1C04}
\addlegendimage{leg=c5}\addlegendentry{P1F05}
\addlegendimage{leg=c3}\addlegendentry{P1C05}
\addlegendimage{leg=c6}\addlegendentry{P1G04}
\end{axis}

\begin{axis}[pan, at={(341.8pt,-710pt)}, c3x, r6, lg=0.065]
\addplot[reg=ax] coordinates {(-0.457,-0.025) (0.086,-0.005)};
\addplot[reg=c1] coordinates {(-0.39,-0.006) (0.086,0.009)};
\addplot[reg=c3] coordinates {(-0.457,-0.014) (0.086,0.004)};
\addplot[pf={c6}{0.008}{0.003}] coordinates {(-0.092,-0.014) (0.022,0.007) (0.051,0.006) (0.081,-0.003)};
\addplot[pt=c1] coordinates {(-0.390,0.002) +- (0.07,0.002) (-0.203,-0.003) +- (0.008,0.003) (-0.156,-0.004) +- (0.008,0.01)};
\addplot[pf={c2}{0.008}{0.003}] coordinates {(-0.006,0.003) (0.041,0.004) (0.022,0.002)};
\addplot[pt=c3] coordinates {(-0.457,-0.019) +- (0.008,0.008) (-0.263,-0.003) +- (0.06,0.002) (-0.187,-0.015) +- (0.008,0.003) (-0.176,-0.006) +- (0.008,0.01) (-0.149,-0.006) +- (0.06,0.003) (-0.070,-0.005) +- (0.008,0.003)};
\addplot[pf={c4}{0.008}{0.003}] coordinates {(-0.041,-0.011) (-0.029,-0.001) (0.003,-0.005) (0.014,-0.003)};
\addplot[pt=c5] coordinates {(-0.160,-0.011) +- (0.008,0.008) (-0.089,-0.006) +- (0.008,0.003) (-0.006,-0.004) +- (0.008,0.003) (0.046,0.001) +- (0.008,0.003)};
\addlegendimage{leg=c1}\addlegendentry{P1B04}
\addlegendimage{leg=c4}\addlegendentry{P1D03}
\addlegendimage{leg=c2}\addlegendentry{P1C04}
\addlegendimage{leg=c5}\addlegendentry{P1F05}
\addlegendimage{leg=c3}\addlegendentry{P1C05}
\addlegendimage{leg=c6}\addlegendentry{P1G04}
\end{axis}

\begin{axis}[bypan, at={(493.2pt,-710pt)}, c4x, r6]
\addplot[bk] coordinates {(-0.120,0.085) (-0.099,0.066) (-0.089,0.069) (-0.073,0.063) (0.003,0.073) (-0.128,0.023) (-0.113,0.027) (-0.064,0.011) (-0.068,-0.005) (-0.045,0.008) (-0.022,0.003) (-0.018,-0.003) (-0.009,0.009) (-0.005,0.007) (-0.001,0.012) (0.005,0.014) (0.008,0.008) (0.011,0.004) (0.014,0.012) (0.018,-0.001) (0.021,0.002) (0.024,-0.016) (0.028,-0.019) (0.031,-0.006) (0.034,0.002) (0.038,-0.009) (0.041,-0.004) (0.044,-0.008) (0.047,0.004) (0.054,-0.021) (0.057,0.009) (0.061,0.007) (0.064,0.009) (0.067,0.004) (0.070,0.003) (0.074,0.004) (0.079,0.025) (0.093,0.013) (0.097,0.004) (0.041,0.017) (-0.022,0.017) (-0.035,0.022) (-0.048,0.025) (-0.015,0.012) (0.024,0.019) (0.011,0.022) (-0.009,0.025) (-0.125,0.045) (-0.118,0.040) (-0.110,0.050) (-0.105,0.042) (-0.100,0.055) (-0.095,0.035) (-0.092,0.048) (-0.088,0.040) (-0.085,0.060) (-0.082,0.030) (-0.080,0.045) (-0.077,0.052) (-0.075,0.035) (-0.072,0.042) (-0.070,0.028) (-0.068,0.050) (-0.065,0.038) (-0.062,0.045) (-0.060,0.030) (-0.058,0.055) (-0.055,0.040) (-0.052,0.035) (-0.050,0.047) (-0.048,0.030) (-0.045,0.040) (-0.042,0.025) (-0.040,0.038) (-0.037,0.032) (-0.035,0.045) (-0.032,0.028) (-0.030,0.035) (-0.027,0.020) (-0.025,0.040) (-0.022,0.028) (-0.020,0.032) (-0.017,0.022) (-0.015,0.030) (-0.012,0.020) (-0.010,0.035) (-0.007,0.018) (-0.005,0.025) (0.000,0.030) (0.003,0.015) (0.006,0.028) (0.010,0.020) (0.015,0.025) (0.020,0.010) (0.025,0.012) (0.030,0.005) (0.035,0.010) (0.050,0.000) (0.060,-0.005) (0.072,-0.002) (0.085,0.000) (0.090,0.008) (-0.128,0.008)};
\end{axis}

%================ TEXT ================
\begin{scope}[every node/.style={text=ax}]
\node[anchor=base, font=\fontsize{15.5}{17}\selectfont] at (102.35pt,-42.5pt) {SC 37°C};
\node[anchor=base, font=\fontsize{15.5}{17}\selectfont] at (253.75pt,-42.5pt) {YPD 30°C};
\node[anchor=base, font=\fontsize{15.5}{17}\selectfont] at (405.15pt,-23pt) {Evo. YPD 30°C};
\node[anchor=base, font=\fontsize{15.5}{17}\selectfont] at (405.15pt,-42pt) {in SC 37°C};
\node[anchor=base, font=\fontsize{15.5}{17}\selectfont] at (556.55pt,-42.5pt) {BY x RM};
\node[anchor=base west, font=\fontsize{13}{15}\selectfont] at (632.5pt,-102pt) {in RPS14B};
\node[anchor=base west, font=\fontsize{13}{15}\selectfont] at (632.5pt,-234pt) {in RRP46};
\node[anchor=base west, font=\fontsize{13}{15}\selectfont] at (632.5pt,-366pt) {in RSC30};
\node[anchor=base west, font=\fontsize{13}{15}\selectfont] at (632.5pt,-498pt) {in RTG1};
\node[anchor=base west, font=\fontsize{13}{15}\selectfont] at (632.5pt,-630pt) {in SCJ1};
\node[anchor=base west, font=\fontsize{13}{15}\selectfont] at (632.5pt,-762pt) {in SIR3};
\node[inner sep=0pt, font=\fontsize{14}{16}\selectfont] at (3pt,-90pt) {s};
\node[inner sep=0pt, font=\fontsize{14}{16}\selectfont] at (10pt,-223pt) {s};
\node[inner sep=0pt, font=\fontsize{14}{16}\selectfont] at (9.5pt,-354pt) {s};
\node[inner sep=0pt, font=\fontsize{14}{16}\selectfont] at (8pt,-486.5pt) {s};
\node[inner sep=0pt, font=\fontsize{14}{16}\selectfont] at (9pt,-619pt) {s};
\node[inner sep=0pt, font=\fontsize{14}{16}\selectfont] at (3pt,-750.5pt) {s};
\node[anchor=base, font=\fontsize{14}{16}\selectfont] at (102.35pt,-839pt) {Generations};
\node[anchor=base, font=\fontsize{14}{16}\selectfont] at (253.75pt,-839pt) {Generations};
\node[anchor=base, font=\fontsize{14}{16}\selectfont] at (405.15pt,-839pt) {Generations};
\node[anchor=base, font=\fontsize{14}{16}\selectfont] at (556.55pt,-839pt) {Fitness};
\end{scope}
\end{tikzpicture}
\end{document}
